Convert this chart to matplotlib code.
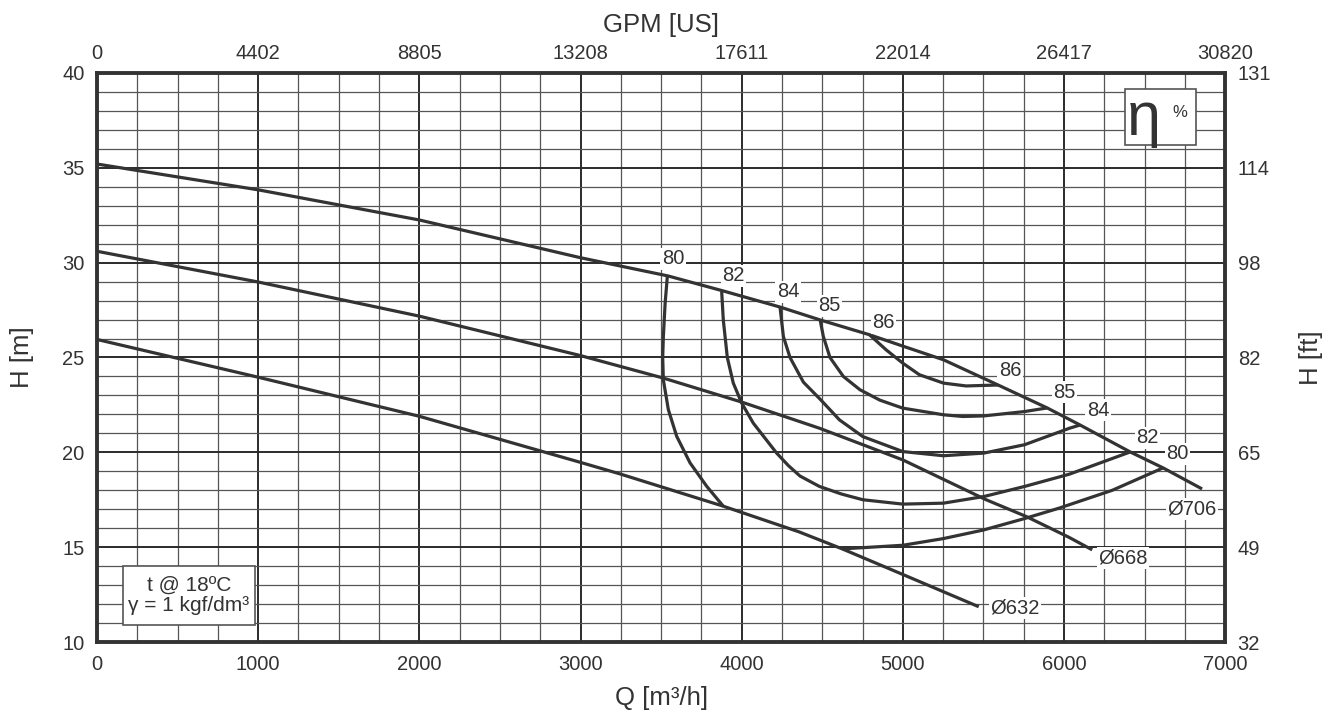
import matplotlib

matplotlib.use("Agg")
import matplotlib.pyplot as plt
from matplotlib.patches import Rectangle
from matplotlib.ticker import MultipleLocator

plt.rcParams["font.family"] = ["Liberation Sans", "DejaVu Sans"]

INK = "#333333"

# head curves per impeller diameter, Q [m3/h] vs H [m]
q_706 = [0, 1000, 2000, 3000, 3543, 3885, 4238, 4487, 4793, 5000, 5252, 5591, 5896, 6100, 6411, 6615, 6857]
h_706 = [35.2, 33.84, 32.25, 30.26, 29.3, 28.51, 27.66, 26.98, 26.2, 25.6, 24.88, 23.55, 22.34, 21.44, 20.02, 19.18, 18.07]

q_668 = [0, 1000, 2000, 3000, 3512, 4000, 4483, 5000, 5517, 5765, 6031, 6175]
h_668 = [30.6, 28.98, 27.18, 25.1, 23.92, 22.65, 21.27, 19.6, 17.5, 16.62, 15.52, 14.86]

q_632 = [0, 1000, 2000, 3000, 3242, 3886, 4355, 4624, 5000, 5471]
h_632 = [25.95, 23.96, 21.9, 19.47, 18.87, 17.16, 15.81, 14.91, 13.56, 11.86]

# iso-efficiency curves
q_eta80a = [3539, 3525, 3514, 3510, 3514, 3545, 3597, 3680, 3783, 3886]
h_eta80a = [29.3, 27.86, 26.1, 25.0, 23.82, 22.25, 20.84, 19.44, 18.21, 17.16]
q_eta80b = [4624, 5000, 5250, 5498, 5752, 5967, 6300, 6615]
h_eta80b = [14.91, 15.1, 15.45, 15.9, 16.5, 17.05, 18.0, 19.18]

q_eta82 = [3876, 3886, 3911, 3948, 4000, 4072, 4217, 4290, 4362, 4483, 4620, 4752, 5000, 5252, 5503, 5755, 6034, 6411]
h_eta82 = [28.47, 26.98, 25.0, 23.65, 22.6, 21.54, 19.96, 19.3, 18.75, 18.2, 17.8, 17.5, 17.27, 17.32, 17.67, 18.2, 18.85, 20.02]

q_eta84 = [4238, 4259, 4300, 4383, 4487, 4607, 4752, 5000, 5252, 5503, 5755, 6034, 6100]
h_eta84 = [27.66, 26.1, 25.0, 23.7, 22.8, 21.71, 20.83, 20.04, 19.82, 19.96, 20.4, 21.27, 21.44]

q_eta85 = [4487, 4507, 4548, 4631, 4734, 4858, 5000, 5252, 5372, 5503, 5755, 5896]
h_eta85 = [26.98, 26.1, 25.0, 24.0, 23.3, 22.75, 22.33, 21.98, 21.89, 21.92, 22.15, 22.34]

q_eta86 = [4793, 4897, 5000, 5103, 5252, 5393, 5591]
h_eta86 = [26.2, 25.4, 24.7, 24.09, 23.65, 23.5, 23.55]

# labels
eta_labels = ["80", "82", "84", "85", "86", "86", "85", "84", "82", "80"]
eta_label_q = [3574, 3947, 4288, 4543, 4878, 5666, 6001, 6212, 6516, 6702]
eta_label_h = [30.2, 29.3, 28.46, 27.72, 26.82, 24.29, 23.18, 22.23, 20.76, 19.92]

dia_labels = ["Ø706", "Ø668", "Ø632"]
dia_label_q = [6795, 6367, 5697]
dia_label_h = [17.0, 14.43, 11.8]

q_ticks = [0, 1000, 2000, 3000, 4000, 5000, 6000, 7000]
gpm_labels = ["0", "4402", "8805", "13208", "17611", "22014", "26417", "30820"]
h_ticks = [10, 15, 20, 25, 30, 35, 40]
ft_labels = ["32", "49", "65", "82", "98", "114", "131"]


fig = plt.figure(figsize=(13.35, 7.17), dpi=100)
ax = fig.add_axes([0.0727, 0.1046, 0.845, 0.7936])
ax.set_xlim(0, 7000)
ax.set_ylim(10, 40)

ax.xaxis.set_major_locator(MultipleLocator(1000))
ax.xaxis.set_minor_locator(MultipleLocator(250))
ax.yaxis.set_major_locator(MultipleLocator(5))
ax.yaxis.set_minor_locator(MultipleLocator(1))
ax.grid(which="major", color="#2b2b2b", linewidth=1.4)
ax.grid(which="minor", color="#555555", linewidth=0.9)
ax.set_axisbelow(True)
ax.tick_params(which="both", length=0, pad=9, labelsize=14.5, colors=INK)

for spine in ax.spines.values():
    spine.set_linewidth(2.8)
    spine.set_color(INK)

curve_style = dict(color=INK, linewidth=2.3, solid_joinstyle="round", solid_capstyle="butt", zorder=3)
for q, h in [
    (q_706, h_706),
    (q_668, h_668),
    (q_632, h_632),
    (q_eta80a, h_eta80a),
    (q_eta80b, h_eta80b),
    (q_eta82, h_eta82),
    (q_eta84, h_eta84),
    (q_eta85, h_eta85),
    (q_eta86, h_eta86),
]:
    ax.plot(q, h, **curve_style)

label_box = dict(facecolor="white", edgecolor="none", pad=1.0)
for text, q, h in zip(eta_labels, eta_label_q, eta_label_h):
    ax.text(q, h, text, ha="center", va="center", fontsize=14.5, color=INK, bbox=label_box, zorder=4)
for text, q, h in zip(dia_labels, dia_label_q, dia_label_h):
    ax.text(q, h, text, ha="center", va="center", fontsize=14.5, color=INK, bbox=label_box, zorder=4)

ax.set_xticks(q_ticks)
ax.set_yticks(h_ticks)
ax.set_xlabel("Q [m³/h]", fontsize=18.5, color=INK, labelpad=9)
ax.set_ylabel("H [m]", fontsize=18.5, color=INK, labelpad=20)

ax_top = ax.twiny()
ax_top.set_xlim(ax.get_xlim())
ax_top.set_xticks(q_ticks)
ax_top.set_xticklabels(gpm_labels)
ax_top.tick_params(length=0, pad=7, labelsize=14.5, colors=INK)
ax_top.set_xlabel("GPM [US]", fontsize=18.5, color=INK, labelpad=9)

ax_right = ax.twinx()
ax_right.set_ylim(ax.get_ylim())
ax_right.set_yticks(h_ticks)
ax_right.set_yticklabels(ft_labels)
ax_right.tick_params(length=0, pad=9, labelsize=14.5, colors=INK)
ax_right.set_ylabel("H [ft]", fontsize=18.5, color=INK, labelpad=20)
for a in (ax_top, ax_right):
    for spine in a.spines.values():
        spine.set_visible(False)

box_style = dict(facecolor="white", edgecolor="#555555", linewidth=1.2, transform=ax.transAxes, zorder=5)

# fluid note, bottom left
ax.add_patch(Rectangle((0.023, 0.030), 0.117, 0.104, **box_style))
ax.text(0.0815, 0.082, "t @ 18ºC\nγ = 1 kgf/dm³", transform=ax.transAxes,
        ha="center", va="center", fontsize=15, color=INK, linespacing=1.05, zorder=6)

# efficiency marker, top right
ax.add_patch(Rectangle((0.9113, 0.8735), 0.063, 0.0984, **box_style))
ax.text(0.9275, 0.918, "η", transform=ax.transAxes, ha="center", va="center",
        fontsize=44, color=INK, zorder=6)
ax.text(0.9595, 0.931, "%", transform=ax.transAxes, ha="center", va="center",
        fontsize=12, color=INK, zorder=6)

fig.savefig("out.png", dpi=100)
